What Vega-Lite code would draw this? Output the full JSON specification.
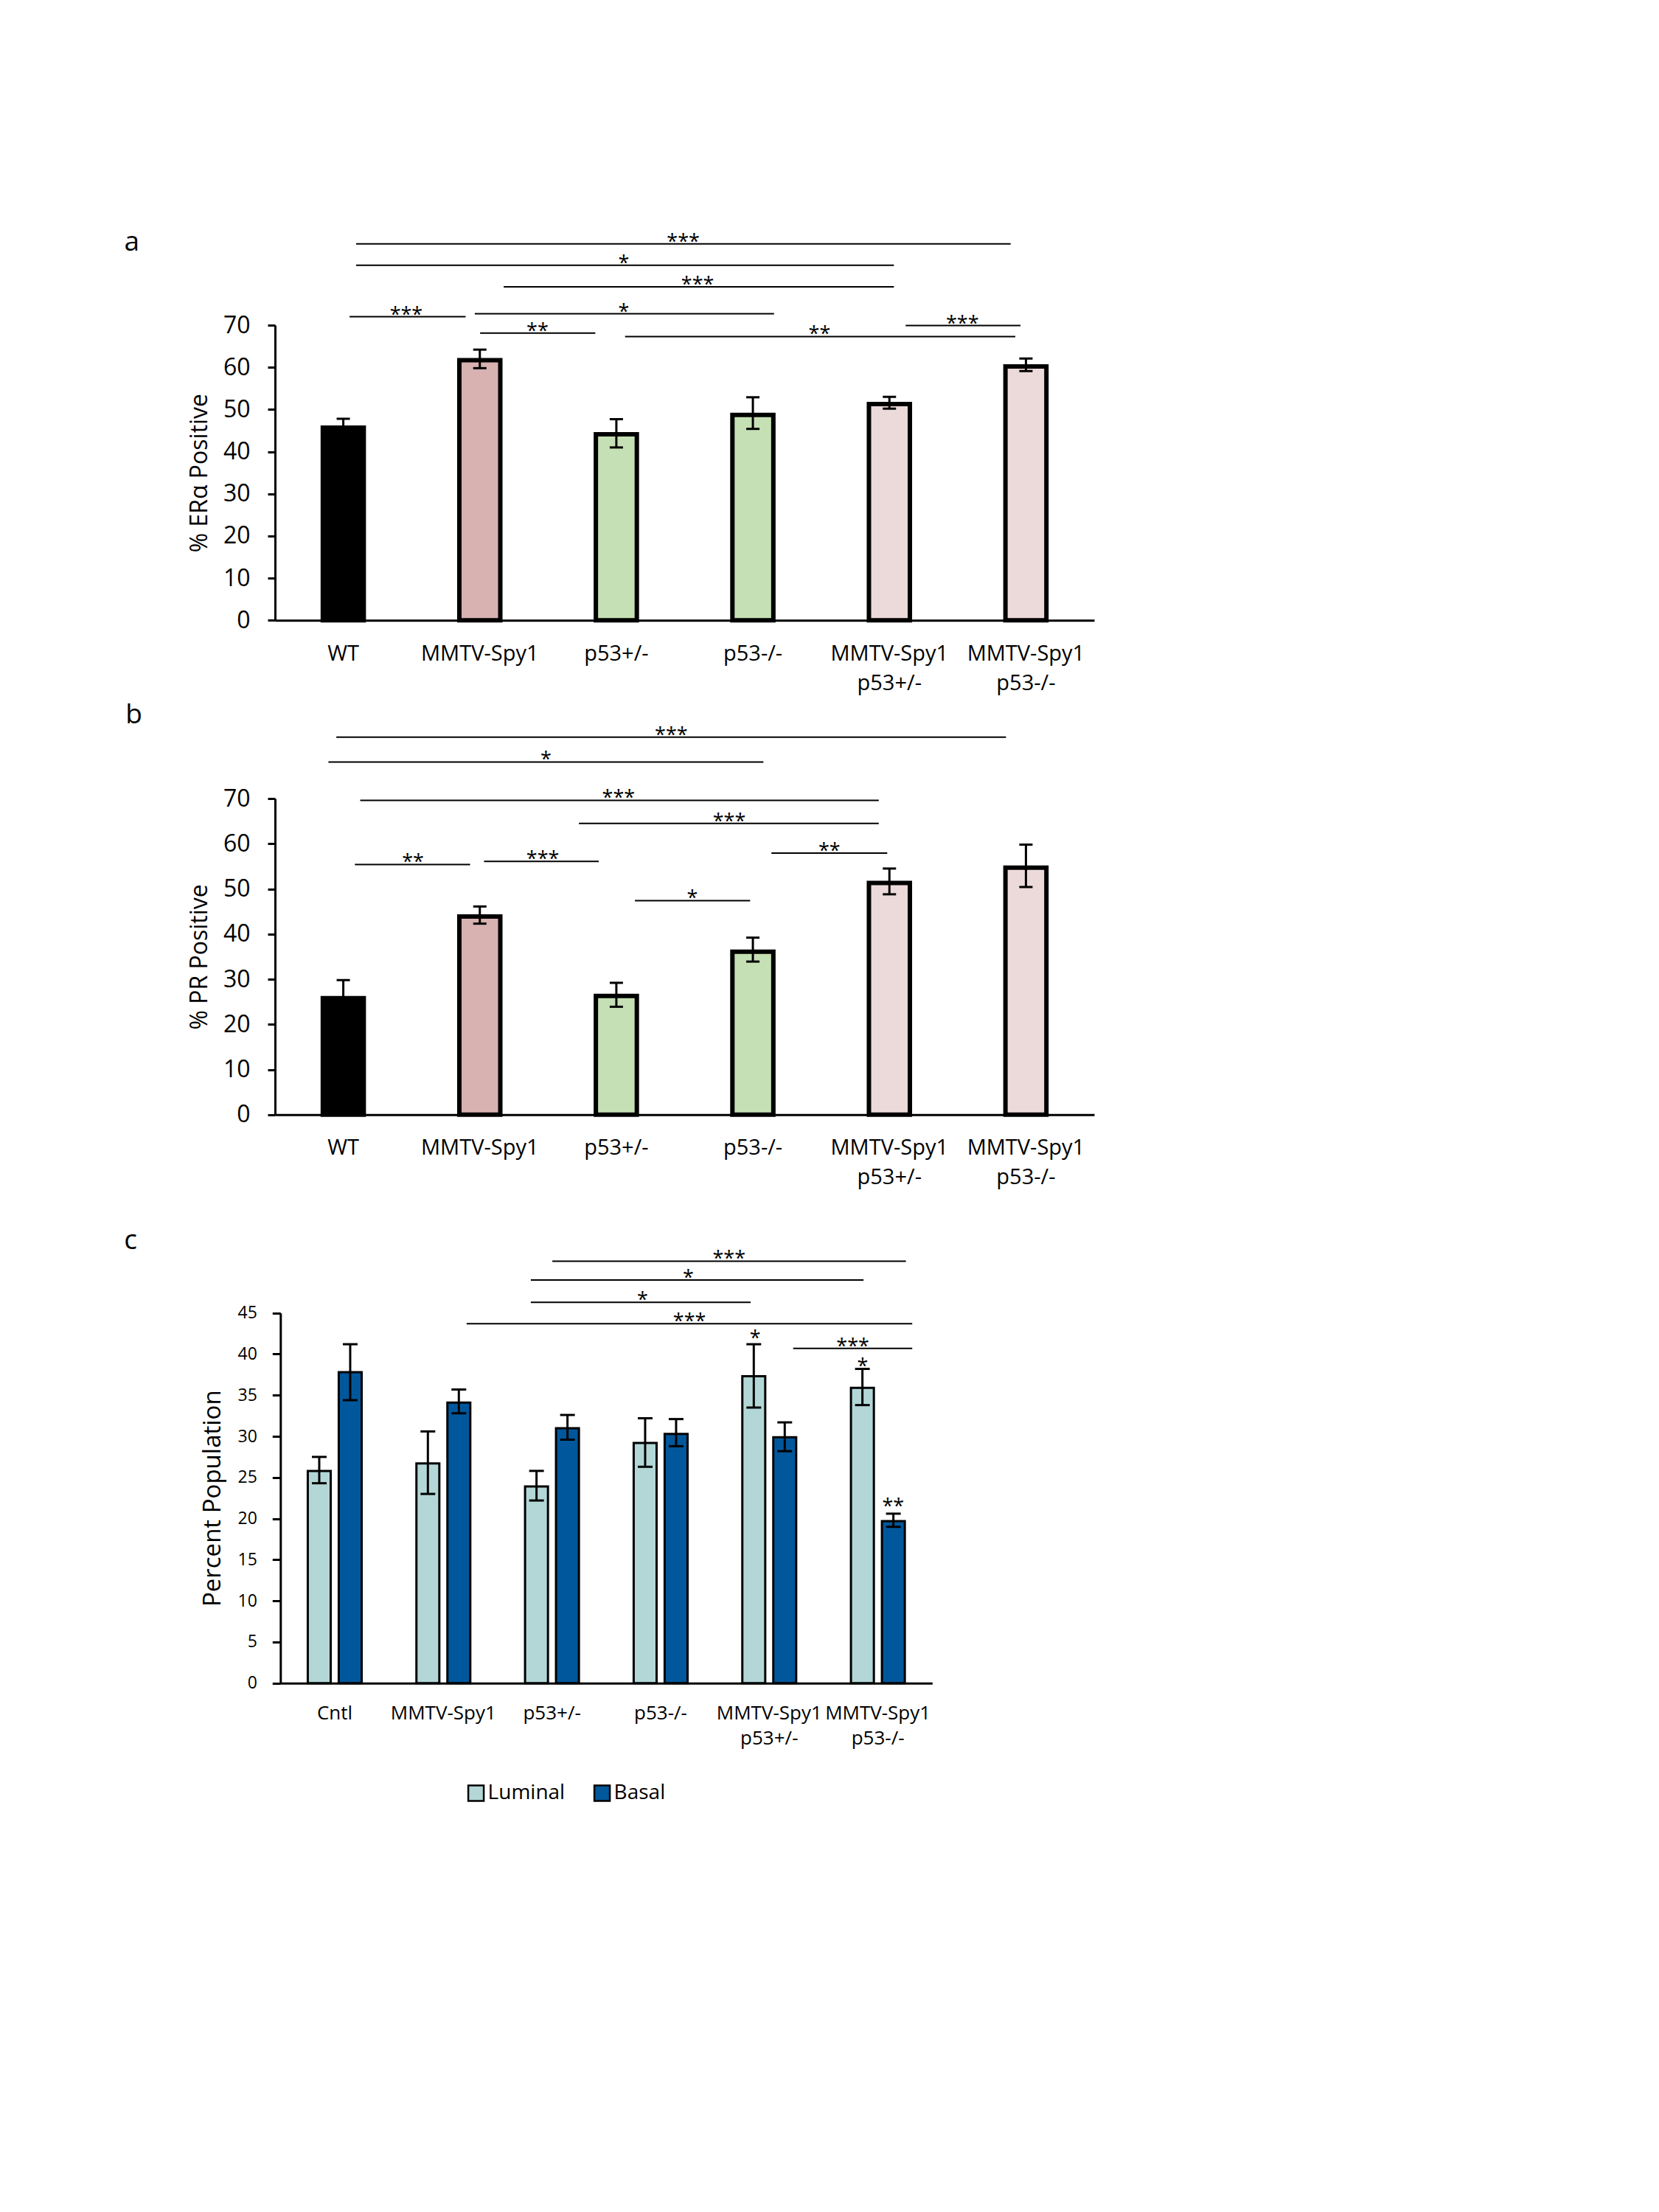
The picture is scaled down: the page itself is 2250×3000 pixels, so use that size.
{
  "$schema": "https://vega.github.io/schema/vega-lite/v6.json",
  "background": "white",
  "padding": {"left": 168, "top": 310, "right": 20, "bottom": 20},
  "bounds": "flush",
  "spacing": 241,
  "resolve": {"scale": {"fill": "independent"}, "legend": {"fill": "independent"}},
  "config": {
    "view": {"stroke": null},
    "font": "Open Sans",
    "axis": {"labelFont": "Open Sans", "titleFont": "Open Sans", "labelColor": "black", "titleColor": "black", "domainColor": "black", "tickColor": "black", "grid": false, "titleFontWeight": "normal"},
    "legend": {"labelFont": "Open Sans", "labelColor": "black"}
  },
  "datasets": {
    "barsA": [
      {"group": "WT", "type": "WT", "value": 45.7, "lo": 44.2, "hi": 47.8},
      {"group": "MMTV-Spy1", "type": "Spy1", "value": 61.7, "lo": 59.8, "hi": 64.2},
      {"group": "p53+/-", "type": "p53", "value": 44.1, "lo": 41.0, "hi": 47.7},
      {"group": "p53-/-", "type": "p53", "value": 48.7, "lo": 45.4, "hi": 52.9},
      {"group": "MMTV-Spy1|p53+/-", "type": "combo", "value": 51.3, "lo": 50.2, "hi": 53.0},
      {"group": "MMTV-Spy1|p53-/-", "type": "combo", "value": 60.2, "lo": 59.1, "hi": 62.1}
    ],
    "barsB": [
      {"group": "WT", "type": "WT", "value": 25.8, "lo": 22.6, "hi": 29.8},
      {"group": "MMTV-Spy1", "type": "Spy1", "value": 43.9, "lo": 42.3, "hi": 46.1},
      {"group": "p53+/-", "type": "p53", "value": 26.3, "lo": 23.9, "hi": 29.2},
      {"group": "p53-/-", "type": "p53", "value": 36.1, "lo": 33.9, "hi": 39.2},
      {"group": "MMTV-Spy1|p53+/-", "type": "combo", "value": 51.3, "lo": 48.8, "hi": 54.5},
      {"group": "MMTV-Spy1|p53-/-", "type": "combo", "value": 54.7, "lo": 50.4, "hi": 59.8}
    ],
    "barsC": [
      {"group": "Cntl", "series": "Luminal", "value": 25.8, "lo": 24.3, "hi": 27.5},
      {"group": "Cntl", "series": "Basal", "value": 37.8, "lo": 34.4, "hi": 41.2},
      {"group": "MMTV-Spy1", "series": "Luminal", "value": 26.7, "lo": 23.0, "hi": 30.6},
      {"group": "MMTV-Spy1", "series": "Basal", "value": 34.1, "lo": 32.8, "hi": 35.7},
      {"group": "p53+/-", "series": "Luminal", "value": 23.9, "lo": 22.2, "hi": 25.8},
      {"group": "p53+/-", "series": "Basal", "value": 31.0, "lo": 29.6, "hi": 32.6},
      {"group": "p53-/-", "series": "Luminal", "value": 29.2, "lo": 26.3, "hi": 32.2},
      {"group": "p53-/-", "series": "Basal", "value": 30.3, "lo": 28.8, "hi": 32.1},
      {"group": "MMTV-Spy1|p53+/-", "series": "Luminal", "value": 37.3, "lo": 33.5, "hi": 41.2},
      {"group": "MMTV-Spy1|p53+/-", "series": "Basal", "value": 29.9, "lo": 28.2, "hi": 31.7},
      {"group": "MMTV-Spy1|p53-/-", "series": "Luminal", "value": 35.9, "lo": 33.8, "hi": 38.2},
      {"group": "MMTV-Spy1|p53-/-", "series": "Basal", "value": 19.7, "lo": 19.0, "hi": 20.6}
    ],
    "sigA": [
      {"x1": 0.594, "x2": 5.388, "y": 89.3, "sx": 2.99, "stars": "***"},
      {"x1": 0.594, "x2": 4.533, "y": 84.2, "sx": 2.554, "stars": "*"},
      {"x1": 1.675, "x2": 4.533, "y": 79.1, "sx": 3.095, "stars": "***"},
      {"x1": 0.546, "x2": 1.396, "y": 72.0, "sx": 0.961, "stars": "***"},
      {"x1": 1.463, "x2": 3.655, "y": 72.7, "sx": 2.554, "stars": "*"},
      {"x1": 1.502, "x2": 2.346, "y": 68.1, "sx": 1.922, "stars": "**"},
      {"x1": 2.564, "x2": 5.422, "y": 67.3, "sx": 3.988, "stars": "**"},
      {"x1": 4.619, "x2": 5.46, "y": 69.9, "sx": 5.035, "stars": "***"}
    ],
    "sigB": [
      {"x1": 0.449, "x2": 5.354, "y": 83.6, "sx": 2.902, "stars": "***"},
      {"x1": 0.391, "x2": 3.577, "y": 78.1, "sx": 1.984, "stars": "*"},
      {"x1": 0.624, "x2": 4.422, "y": 69.6, "sx": 2.516, "stars": "***"},
      {"x1": 2.226, "x2": 4.422, "y": 64.5, "sx": 3.327, "stars": "***"},
      {"x1": 3.636, "x2": 4.484, "y": 57.9, "sx": 4.06, "stars": "**"},
      {"x1": 0.585, "x2": 1.429, "y": 55.4, "sx": 1.01, "stars": "**"},
      {"x1": 1.531, "x2": 2.371, "y": 56.1, "sx": 1.961, "stars": "***"},
      {"x1": 2.636, "x2": 3.48, "y": 47.4, "sx": 3.056, "stars": "*"}
    ],
    "sigC": [
      {"x1": 2.503, "x2": 5.758, "y": 51.3, "sx": 4.13, "stars": "***"},
      {"x1": 2.305, "x2": 5.368, "y": 49.0, "sx": 3.755, "stars": "*"},
      {"x1": 2.305, "x2": 4.329, "y": 46.3, "sx": 3.333, "stars": "*"},
      {"x1": 1.714, "x2": 5.816, "y": 43.7, "sx": 3.766, "stars": "***"},
      {"x1": 4.72, "x2": 5.816, "y": 40.7, "sx": 5.269, "stars": "***"}
    ],
    "starsC": [
      {"sx": 4.37, "y": 42.4, "stars": "*"},
      {"sx": 5.36, "y": 39.0, "stars": "*"},
      {"sx": 5.64, "y": 21.9, "stars": "**"}
    ],
    "letterA": [{"lx": -1.104, "ly": 87.6, "letter": "a"}],
    "letterB": [{"lx": -1.095, "ly": 86.6, "letter": "b"}],
    "letterC": [{"lx": -1.44, "ly": 52.8, "letter": "c"}]
  },
  "vconcat": [
    {
      "width": 1111,
      "height": 400.3,
      "layer": [
        {
          "data": {"name": "barsA"},
          "encoding": {
            "x": {"field": "group", "type": "nominal", "sort": null,
              "scale": {"paddingInner": 0.7, "paddingOuter": 0.35},
              "axis": {"title": null, "labelExpr": "split(datum.label, '|')", "labelAngle": 0, "ticks": false, "labelPadding": 31, "labelFontSize": 29, "labelLineHeight": 40, "domainWidth": 3, "labelOverlap": false}}
          },
          "layer": [
            {"mark": {"type": "bar", "stroke": "black", "strokeWidth": 6},
             "encoding": {
               "y": {"field": "value", "type": "quantitative", "scale": {"domain": [0, 70], "nice": false},
                 "axis": {"title": "% ERα Positive", "titleFontSize": 32, "titlePadding": 15, "values": [0, 10, 20, 30, 40, 50, 60, 70], "labelFontSize": 32, "labelPadding": 24, "tickSize": 10, "tickWidth": 3, "domainWidth": 3}},
               "fill": {"field": "type", "type": "nominal", "scale": {"domain": ["WT", "Spy1", "p53", "combo"], "range": ["#000000", "#d8b1b1", "#c5e0b4", "#ecd9d9"]}, "legend": null}}},
            {"mark": {"type": "rule", "strokeWidth": 3, "color": "black"},
             "encoding": {"y": {"field": "lo", "type": "quantitative", "scale": {"domain": [0, 70], "nice": false}, "axis": {"title": "% ERα Positive", "titleFontSize": 32, "titlePadding": 15, "values": [0, 10, 20, 30, 40, 50, 60, 70], "labelFontSize": 32, "labelPadding": 24, "tickSize": 10, "tickWidth": 3, "domainWidth": 3}}, "y2": {"field": "hi"}}},
            {"mark": {"type": "tick", "thickness": 3, "size": 18, "color": "black", "opacity": 1},
             "encoding": {"y": {"field": "lo", "type": "quantitative", "scale": {"domain": [0, 70], "nice": false}, "axis": {"title": "% ERα Positive", "titleFontSize": 32, "titlePadding": 15, "values": [0, 10, 20, 30, 40, 50, 60, 70], "labelFontSize": 32, "labelPadding": 24, "tickSize": 10, "tickWidth": 3, "domainWidth": 3}}}},
            {"mark": {"type": "tick", "thickness": 3, "size": 18, "color": "black", "opacity": 1},
             "encoding": {"y": {"field": "hi", "type": "quantitative", "scale": {"domain": [0, 70], "nice": false}, "axis": {"title": "% ERα Positive", "titleFontSize": 32, "titlePadding": 15, "values": [0, 10, 20, 30, 40, 50, 60, 70], "labelFontSize": 32, "labelPadding": 24, "tickSize": 10, "tickWidth": 3, "domainWidth": 3}}}}
          ]
        },
        {
          "layer": [
            {"data": {"name": "sigA"},
             "mark": {"type": "rule", "strokeWidth": 2, "color": "black"},
             "encoding": {
               "x": {"field": "x1", "type": "quantitative", "scale": {"domain": [0, 6], "nice": false, "zero": false}, "axis": null},
               "x2": {"field": "x2"},
               "y": {"field": "y", "type": "quantitative", "scale": {"domain": [0, 70], "nice": false}, "axis": {"title": "% ERα Positive", "titleFontSize": 32, "titlePadding": 15, "values": [0, 10, 20, 30, 40, 50, 60, 70], "labelFontSize": 32, "labelPadding": 24, "tickSize": 10, "tickWidth": 3, "domainWidth": 3}}}},
            {"data": {"name": "sigA"},
             "mark": {"type": "text", "fontSize": 27, "font": "Open Sans", "baseline": "alphabetic", "align": "center", "dy": 6, "color": "black"},
             "encoding": {
               "x": {"field": "sx", "type": "quantitative"},
               "y": {"field": "y", "type": "quantitative"},
               "text": {"field": "stars"}}},
            {"data": {"name": "letterA"},
             "mark": {"type": "text", "fontSize": 37, "font": "Open Sans", "baseline": "alphabetic", "align": "left", "color": "black"},
             "encoding": {
               "x": {"field": "lx", "type": "quantitative"},
               "y": {"field": "ly", "type": "quantitative"},
               "text": {"field": "letter"}}}
          ]
        }
      ],
      "resolve": {"scale": {"x": "independent"}, "axis": {"x": "independent"}}
    },
    {
      "width": 1111,
      "height": 428.8,
      "layer": [
        {
          "data": {"name": "barsB"},
          "encoding": {
            "x": {"field": "group", "type": "nominal", "sort": null,
              "scale": {"paddingInner": 0.7, "paddingOuter": 0.35},
              "axis": {"title": null, "labelExpr": "split(datum.label, '|')", "labelAngle": 0, "ticks": false, "labelPadding": 31, "labelFontSize": 29, "labelLineHeight": 40, "domainWidth": 3, "labelOverlap": false}}
          },
          "layer": [
            {"mark": {"type": "bar", "stroke": "black", "strokeWidth": 6},
             "encoding": {
               "y": {"field": "value", "type": "quantitative", "scale": {"domain": [0, 70], "nice": false},
                 "axis": {"title": "% PR Positive", "titleFontSize": 32, "titlePadding": 15, "values": [0, 10, 20, 30, 40, 50, 60, 70], "labelFontSize": 32, "labelPadding": 24, "tickSize": 10, "tickWidth": 3, "domainWidth": 3}},
               "fill": {"field": "type", "type": "nominal", "scale": {"domain": ["WT", "Spy1", "p53", "combo"], "range": ["#000000", "#d8b1b1", "#c5e0b4", "#ecd9d9"]}, "legend": null}}},
            {"mark": {"type": "rule", "strokeWidth": 3, "color": "black"},
             "encoding": {"y": {"field": "lo", "type": "quantitative", "scale": {"domain": [0, 70], "nice": false}, "axis": {"title": "% PR Positive", "titleFontSize": 32, "titlePadding": 15, "values": [0, 10, 20, 30, 40, 50, 60, 70], "labelFontSize": 32, "labelPadding": 24, "tickSize": 10, "tickWidth": 3, "domainWidth": 3}}, "y2": {"field": "hi"}}},
            {"mark": {"type": "tick", "thickness": 3, "size": 18, "color": "black", "opacity": 1},
             "encoding": {"y": {"field": "lo", "type": "quantitative", "scale": {"domain": [0, 70], "nice": false}, "axis": {"title": "% PR Positive", "titleFontSize": 32, "titlePadding": 15, "values": [0, 10, 20, 30, 40, 50, 60, 70], "labelFontSize": 32, "labelPadding": 24, "tickSize": 10, "tickWidth": 3, "domainWidth": 3}}}},
            {"mark": {"type": "tick", "thickness": 3, "size": 18, "color": "black", "opacity": 1},
             "encoding": {"y": {"field": "hi", "type": "quantitative", "scale": {"domain": [0, 70], "nice": false}, "axis": {"title": "% PR Positive", "titleFontSize": 32, "titlePadding": 15, "values": [0, 10, 20, 30, 40, 50, 60, 70], "labelFontSize": 32, "labelPadding": 24, "tickSize": 10, "tickWidth": 3, "domainWidth": 3}}}}
          ]
        },
        {
          "layer": [
            {"data": {"name": "sigB"},
             "mark": {"type": "rule", "strokeWidth": 2, "color": "black"},
             "encoding": {
               "x": {"field": "x1", "type": "quantitative", "scale": {"domain": [0, 6], "nice": false, "zero": false}, "axis": null},
               "x2": {"field": "x2"},
               "y": {"field": "y", "type": "quantitative", "scale": {"domain": [0, 70], "nice": false}, "axis": {"title": "% PR Positive", "titleFontSize": 32, "titlePadding": 15, "values": [0, 10, 20, 30, 40, 50, 60, 70], "labelFontSize": 32, "labelPadding": 24, "tickSize": 10, "tickWidth": 3, "domainWidth": 3}}}},
            {"data": {"name": "sigB"},
             "mark": {"type": "text", "fontSize": 27, "font": "Open Sans", "baseline": "alphabetic", "align": "center", "dy": 6, "color": "black"},
             "encoding": {
               "x": {"field": "sx", "type": "quantitative"},
               "y": {"field": "y", "type": "quantitative"},
               "text": {"field": "stars"}}},
            {"data": {"name": "letterB"},
             "mark": {"type": "text", "fontSize": 37, "font": "Open Sans", "baseline": "alphabetic", "align": "left", "color": "black"},
             "encoding": {
               "x": {"field": "lx", "type": "quantitative"},
               "y": {"field": "ly", "type": "quantitative"},
               "text": {"field": "letter"}}}
          ]
        }
      ],
      "resolve": {"scale": {"x": "independent"}, "axis": {"x": "independent"}}
    },
    {
      "width": 891.3,
      "height": 529.7,
      "layer": [
        {
          "data": {"name": "barsC"},
          "encoding": {
            "x": {"field": "group", "type": "nominal", "sort": null,
              "scale": {"paddingInner": 0.43, "paddingOuter": 0.215, "range": [7.3, 891.3]},
              "axis": {"title": null, "labelExpr": "split(datum.label, '|')", "labelAngle": 0, "ticks": false, "labelPadding": 28, "labelFontSize": 26, "labelLineHeight": 34, "domainWidth": 3, "labelOverlap": false}},
            "xOffset": {"field": "series", "type": "nominal", "sort": ["Luminal", "Basal"], "scale": {"paddingInner": 0.26, "paddingOuter": 0.13}}
          },
          "layer": [
            {"mark": {"type": "bar", "stroke": "black", "strokeWidth": 3},
             "encoding": {
               "y": {"field": "value", "type": "quantitative", "scale": {"domain": [0, 45], "nice": false, "range": [529.7, 27.7]},
                 "axis": {"title": "Percent Population", "titleFontSize": 33, "titlePadding": 16, "values": [0, 5, 10, 15, 20, 25, 30, 35, 40, 45], "labelFontSize": 23, "labelPadding": 21, "tickSize": 11, "tickWidth": 3, "domainWidth": 3, "offset": -7.3}},
               "fill": {"field": "series", "type": "nominal", "sort": ["Luminal", "Basal"], "scale": {"domain": ["Luminal", "Basal"], "range": ["#b3d7d7", "#01579b"]},
                 "legend": {"title": null, "orient": "none", "legendX": 258.6, "legendY": 664.7, "direction": "horizontal", "symbolType": "square", "symbolSize": 441, "symbolStrokeColor": "black", "symbolStrokeWidth": 2.5, "labelFontSize": 28, "labelOffset": 2, "columnPadding": 34}}}},
            {"mark": {"type": "rule", "strokeWidth": 3, "color": "black"},
             "encoding": {"y": {"field": "lo", "type": "quantitative", "scale": {"domain": [0, 45], "nice": false, "range": [529.7, 27.7]}, "axis": {"title": "Percent Population", "titleFontSize": 33, "titlePadding": 16, "values": [0, 5, 10, 15, 20, 25, 30, 35, 40, 45], "labelFontSize": 23, "labelPadding": 21, "tickSize": 11, "tickWidth": 3, "domainWidth": 3, "offset": -7.3}}, "y2": {"field": "hi"}}},
            {"mark": {"type": "tick", "thickness": 3, "size": 20, "color": "black", "opacity": 1},
             "encoding": {"y": {"field": "lo", "type": "quantitative", "scale": {"domain": [0, 45], "nice": false, "range": [529.7, 27.7]}, "axis": {"title": "Percent Population", "titleFontSize": 33, "titlePadding": 16, "values": [0, 5, 10, 15, 20, 25, 30, 35, 40, 45], "labelFontSize": 23, "labelPadding": 21, "tickSize": 11, "tickWidth": 3, "domainWidth": 3, "offset": -7.3}}}},
            {"mark": {"type": "tick", "thickness": 3, "size": 20, "color": "black", "opacity": 1},
             "encoding": {"y": {"field": "hi", "type": "quantitative", "scale": {"domain": [0, 45], "nice": false, "range": [529.7, 27.7]}, "axis": {"title": "Percent Population", "titleFontSize": 33, "titlePadding": 16, "values": [0, 5, 10, 15, 20, 25, 30, 35, 40, 45], "labelFontSize": 23, "labelPadding": 21, "tickSize": 11, "tickWidth": 3, "domainWidth": 3, "offset": -7.3}}}}
          ]
        },
        {
          "layer": [
            {"data": {"name": "sigC"},
             "mark": {"type": "rule", "strokeWidth": 2, "color": "black"},
             "encoding": {
               "x": {"field": "x1", "type": "quantitative", "scale": {"domain": [0, 6], "nice": false, "zero": false, "range": [7.3, 891.3]}, "axis": null},
               "x2": {"field": "x2"},
               "y": {"field": "y", "type": "quantitative", "scale": {"domain": [0, 45], "nice": false, "range": [529.7, 27.7]}, "axis": {"title": "Percent Population", "titleFontSize": 33, "titlePadding": 16, "values": [0, 5, 10, 15, 20, 25, 30, 35, 40, 45], "labelFontSize": 23, "labelPadding": 21, "tickSize": 11, "tickWidth": 3, "domainWidth": 3, "offset": -7.3}}}},
            {"data": {"name": "sigC"},
             "mark": {"type": "text", "fontSize": 27, "font": "Open Sans", "baseline": "alphabetic", "align": "center", "dy": 6, "color": "black"},
             "encoding": {
               "x": {"field": "sx", "type": "quantitative"},
               "y": {"field": "y", "type": "quantitative"},
               "text": {"field": "stars"}}},
            {"data": {"name": "starsC"},
             "mark": {"type": "text", "fontSize": 27, "font": "Open Sans", "baseline": "alphabetic", "align": "center", "dy": 14, "color": "black"},
             "encoding": {
               "x": {"field": "sx", "type": "quantitative"},
               "y": {"field": "y", "type": "quantitative"},
               "text": {"field": "stars"}}},
            {"data": {"name": "letterC"},
             "mark": {"type": "text", "fontSize": 37, "font": "Open Sans", "baseline": "alphabetic", "align": "left", "color": "black"},
             "encoding": {
               "x": {"field": "lx", "type": "quantitative"},
               "y": {"field": "ly", "type": "quantitative"},
               "text": {"field": "letter"}}}
          ]
        }
      ],
      "resolve": {"scale": {"x": "independent"}, "axis": {"x": "independent"}}
    }
  ]
}
